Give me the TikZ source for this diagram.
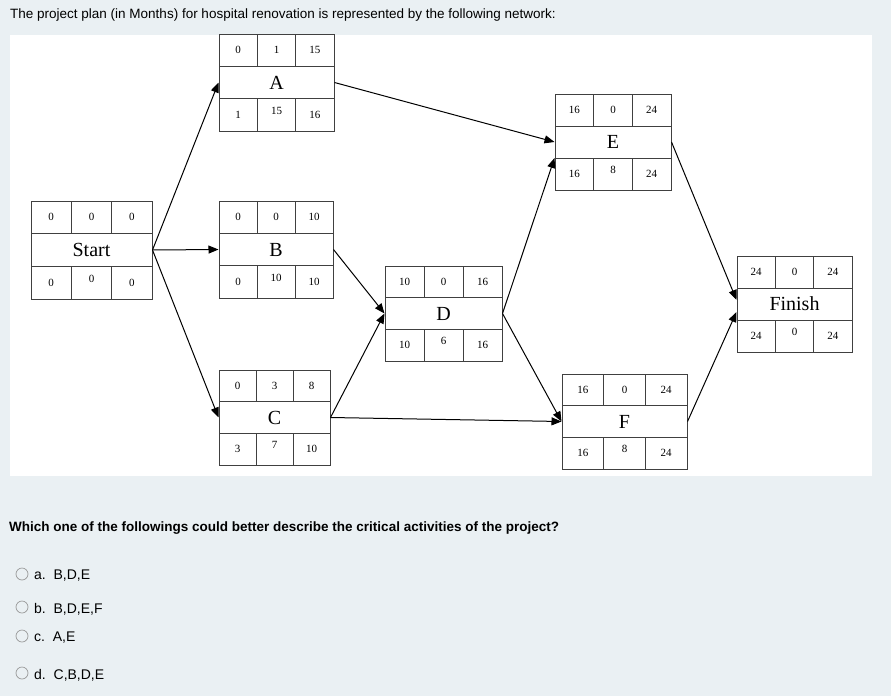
\documentclass[tikz,border=0pt]{standalone}
\usepackage{fontspec}
\setmainfont{Liberation Sans}
\newfontfamily\tms{Liberation Serif}
\usetikzlibrary{arrows.meta}
\tikzset{
  conn/.style={-{Triangle[length=10pt,width=8pt]},line width=1pt},
  cell/.style={font=\tms\fontsize{11}{12}\selectfont,inner sep=0pt},
  radio/.style={draw=gray!80,circle,minimum size=12pt,inner sep=0pt,line width=0.7pt},
  opt/.style={anchor=west,font=\fontsize{14}{16}\selectfont,inner sep=0pt}
}
\newcommand{\actboxA}[9]{\def\an{#1}\def\xa{#2}\def\ya{#3}\def\xb{#4}\def\yb{#5}\def\ta{#6}\def\tb{#7}\def\tc{#8}\def\lab{#9}\actboxC}
\newcommand{\actboxC}[3]{%
  \node[draw=black!75,line width=1pt,minimum width={(\xb-\xa)*1pt},minimum height={(\yb-\ya)*1pt},inner sep=0pt] (\an) at ({(\xa+\xb)/2},{(\ya+\yb)/2}) {};
  \pgfmathsetmacro{\ra}{\ya+(\yb-\ya)/3}\pgfmathsetmacro{\rb}{\ya+2*(\yb-\ya)/3}
  \pgfmathsetmacro{\ca}{\xa+(\xb-\xa)/3}\pgfmathsetmacro{\cb}{\xa+2*(\xb-\xa)/3}
  \draw[black!75,line width=1pt] (\xa,\ra)--(\xb,\ra) (\xa,\rb)--(\xb,\rb)
    (\ca,\ya)--(\ca,\ra) (\cb,\ya)--(\cb,\ra) (\ca,\rb)--(\ca,\yb) (\cb,\rb)--(\cb,\yb);
  \node[cell] at ({(\xa+\ca)/2},{(\ya+\ra)/2}) {\ta};
  \node[cell] at ({(\ca+\cb)/2},{(\ya+\ra)/2}) {\tb};
  \node[cell] at ({(\cb+\xb)/2},{(\ya+\ra)/2}) {\tc};
  \node[font=\tms\fontsize{20}{22}\selectfont,inner sep=0pt] at ({(\xa+\xb)/2},{(\ra+\rb)/2}) {\lab};
  \node[cell] at ({(\xa+\ca)/2},{(\rb+\yb)/2}) {#1};
  \node[cell] at ({(\ca+\cb)/2},{(\rb+\yb)/2-4}) {#2};
  \node[cell] at ({(\cb+\xb)/2},{(\rb+\yb)/2}) {#3};
}
\begin{document}
\begin{tikzpicture}[x=1pt,y=-1pt]
\fill[fill={rgb,255:red,234;green,240;blue,243}] (0,0) rectangle (891,696);
\useasboundingbox (0,0) rectangle (891,696);
\fill[white] (10,35) rectangle (872,476);
\node[anchor=west,font=\fontsize{13.5}{16}\selectfont,inner sep=0pt] (title) at (10,15) {The project plan (in Months) for hospital renovation is represented by the following network:};
\actboxA{start}{31}{201}{152}{299}{0}{0}{0}{Start}{0}{0}{0}
\actboxA{A}{219}{34}{334}{131}{0}{1}{15}{A}{1}{15}{16}
\actboxA{B}{219}{201}{333}{298}{0}{0}{10}{B}{0}{10}{10}
\actboxA{C}{219}{370}{330}{465}{0}{3}{8}{C}{3}{7}{10}
\actboxA{D}{385}{266}{502}{361}{10}{0}{16}{D}{10}{6}{16}
\actboxA{E}{555}{94}{671}{190}{16}{0}{24}{E}{16}{8}{24}
\actboxA{F}{562}{374}{687}{469}{16}{0}{24}{F}{16}{8}{24}
\actboxA{fin}{737}{256}{852}{352}{24}{0}{24}{Finish}{24}{0}{24}
\coordinate (s) at (start.east);
\draw[conn] (s) -- (A.west);
\draw[conn] (s) -- (B.west);
\draw[conn] (s) -- (C.west);
\draw[conn] (A.east) -- (E.west);
\draw[conn] (B.east) -- (D.west);
\draw[conn] (C.east) -- (D.west);
\draw[conn] (D.east) -- ([yshift=-16pt]E.west);
\draw[conn] (D.east) -- (F.west);
\draw[conn] (C.east) -- (F.west);
\draw[conn] (E.east) -- ([yshift=4pt]fin.west);
\draw[conn] (F.east) -- ([yshift=-8pt]fin.west);
\node[anchor=west,font=\bfseries\fontsize{13.5}{16}\selectfont,inner sep=0pt] (q) at (9,528) {Which one of the followings could better describe the critical activities of the project?};
\node[radio] (ra) at (22,574) {}; \node[opt] (oa) at (34,576) {a.\ \ B,D,E};
\node[radio] (rb) at (22,607) {}; \node[opt] (ob) at (34,609) {b.\ \ B,D,E,F};
\node[radio] (rc) at (22,636) {}; \node[opt] (oc) at (34,638) {c.\ \ A,E};
\node[radio] (rd) at (22,673) {}; \node[opt] (od) at (34,675) {d.\ \ C,B,D,E};
\end{tikzpicture}
\end{document}
